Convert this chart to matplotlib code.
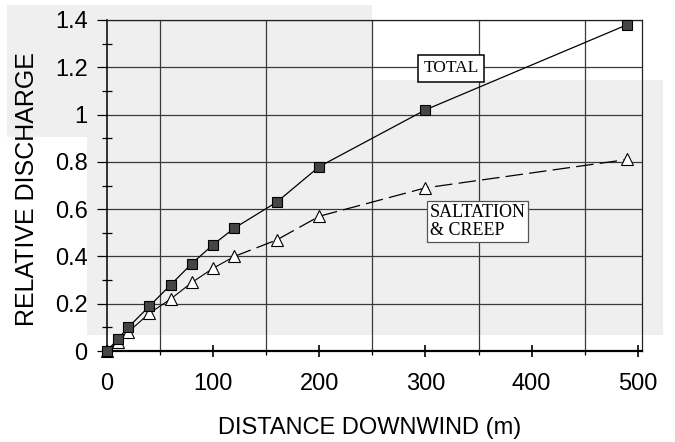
import numpy as np
import matplotlib.pyplot as plt
from matplotlib.patches import Rectangle

plt.rcParams['font.family'] = 'Liberation Sans'

# values
distance = [0, 10, 20, 40, 60, 80, 100, 120, 160, 200, 300, 490]
total = [0, 0.05, 0.10, 0.19, 0.28, 0.37, 0.45, 0.52, 0.63, 0.78, 1.02, 1.38]
saltation = [0, 0.04, 0.08, 0.16, 0.22, 0.29, 0.35, 0.40, 0.47, 0.57, 0.69, 0.81]

x_ticks = [0, 100, 200, 300, 400, 500]
x_grid = [50, 150, 250, 350, 450]
y_ticks = [0, 0.2, 0.4, 0.6, 0.8, 1.0, 1.2, 1.4]
y_labels = ['0', '0.2', '0.4', '0.6', '0.8', '1', '1.2', '1.4']
y_minor = [0.1, 0.3, 0.5, 0.7, 0.9, 1.1, 1.3]

W, H = 675, 442
fig = plt.figure(figsize=(W / 100, H / 100), dpi=100)

# light grey scan patches behind the chart
for (x0, y0, x1, y1) in [(7, 5, 372, 137), (87, 80, 663, 335)]:
    fig.patches.append(Rectangle((x0 / W, 1 - y1 / H), (x1 - x0) / W, (y1 - y0) / H,
                                 transform=fig.transFigure, facecolor='#efefef',
                                 edgecolor='none', zorder=-5))

ax = fig.add_axes([107 / W, 1 - 351 / H, 535 / W, 331 / H])
ax.set_facecolor('none')
ax.set_xlim(0, 504)
ax.set_ylim(0, 1.4)

# grid: vertical lines sit halfway between the labelled ticks
ax.set_xticks(x_ticks)
ax.set_xticks(x_grid, minor=True)
ax.set_yticks(y_ticks)
ax.set_yticklabels(y_labels)
ax.set_yticks(y_minor, minor=True)
ax.grid(which='minor', axis='x', color='#3a3a3a', lw=0.9)
ax.grid(which='major', axis='y', color='#3a3a3a', lw=0.9)
ax.set_axisbelow(True)

ax.tick_params(axis='x', which='major', direction='inout', length=9, width=1.2,
               labelsize=17, pad=11)
ax.tick_params(axis='x', which='minor', direction='out', length=3, width=0.9)
ax.tick_params(axis='y', which='major', direction='out', length=7, width=0.9,
               labelsize=17, pad=7)
ax.tick_params(axis='y', which='minor', direction='inout', length=7, width=0.9)

for s in ['top', 'right']:
    ax.spines[s].set_linewidth(0.9)
    ax.spines[s].set_color('#222222')
ax.spines['bottom'].set_linewidth(1.6)
ax.spines['left'].set_linewidth(1.1)

# total discharge
ax.plot(distance, total, color='black', lw=0.9, marker='s', ms=7.5,
        mfc='#454545', mec='black', mew=0.8, clip_on=False, zorder=4)

# saltation & creep: solid near the origin, dashed further out
ax.plot(distance[:8], saltation[:8], color='black', lw=0.8, zorder=3)
ax.plot(distance[7:], saltation[7:], color='black', lw=0.9, dashes=(14, 5), zorder=3)
ax.plot(distance, saltation, ls='none', marker='^', ms=8.5, mfc='white',
        mec='black', mew=0.8, clip_on=False, zorder=3)

ax.text(324, 1.195, 'TOTAL', family='Liberation Serif', fontsize=12.5,
        ha='center', va='center', zorder=5,
        bbox=dict(boxstyle='square,pad=0.3', fc='white', ec='black', lw=1.1))
ax.text(304, 0.548, 'SALTATION\n& CREEP', family='Liberation Serif', fontsize=13,
        ha='left', va='center', linespacing=1.1, zorder=5,
        bbox=dict(boxstyle='square,pad=0.15', fc='white', ec='#555555', lw=0.9))

ax.set_xlabel('DISTANCE DOWNWIND (m)', fontsize=17, va='center')
ax.xaxis.set_label_coords(0.49, -0.233)
ax.set_ylabel('RELATIVE DISCHARGE', fontsize=18, va='center')
ax.yaxis.set_label_coords(-0.149, 0.489)

fig.savefig('out.png', dpi=100)
